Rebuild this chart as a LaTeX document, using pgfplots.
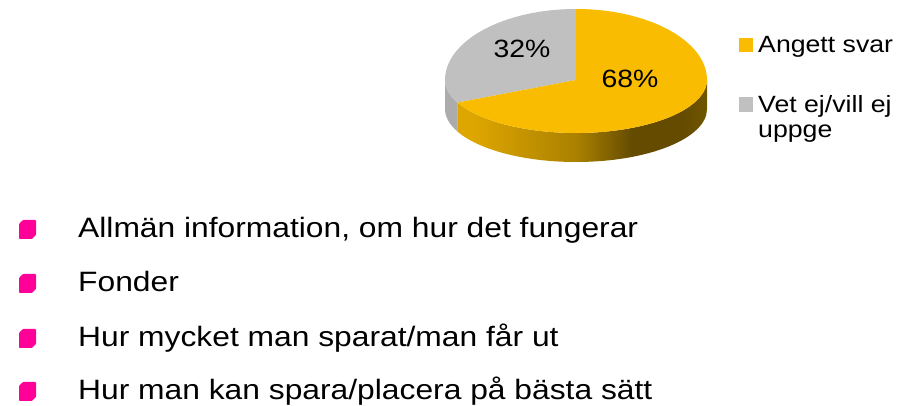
\documentclass[border=0pt]{standalone}
\usepackage{fontspec}
\setmainfont[FakeStretch=1.135]{Liberation Sans}
\usepackage{pgfplots}
\pgfplotsset{compat=1.18}
\definecolor{pieyellow}{RGB}{250,188,0}
\definecolor{piegray}{RGB}{192,192,192}
\definecolor{sidelight}{RGB}{222,166,0}
\definecolor{sidemid}{RGB}{170,128,0}
\definecolor{sidedark}{RGB}{100,75,0}
\definecolor{sideend}{RGB}{112,85,0}
\definecolor{graydark}{RGB}{172,172,172}
\definecolor{bulletpink}{RGB}{255,0,153}
\pgfdeclarehorizontalshading{pieside}{100bp}{color(0bp)=(sidelight); color(28bp)=(sidelight); color(49bp)=(sidemid); color(60bp)=(sidedark); color(70bp)=(sidedark); color(75bp)=(sideend); color(100bp)=(sideend)}
% pie data (percent)
\def\valA{68}
\def\valB{32}
% geometry: centre (576,326), x radius 131, upper y radius 71, lower y radius 53, depth 29
\pgfmathsetmacro\angB{90+3.6*\valB}
\pgfmathsetmacro\xB{576+131*cos(\angB)}
\pgfmathsetmacro\yB{326+53*sin(\angB)}
\newcommand\pinkbullet[1]{\fill[bulletpink,rounded corners=0.8pt] (axis cs:19,#1) -- ++(0pt,15pt) -- ++(4pt,4pt) -- ++(13pt,0pt) -- ++(0pt,-15pt) -- ++(-4pt,-4pt) -- cycle;}
\begin{document}
\begin{tikzpicture}
\begin{axis}[
  at={(0,0)}, anchor=south west,
  scale only axis, width=912pt, height=406pt,
  xmin=0, xmax=912, ymin=0, ymax=406,
  hide axis, clip=false]
\path (axis cs:0,0) rectangle (axis cs:912,406);
% side walls
\fill[graydark] (axis cs:445,326) arc[start angle=180,end angle=\angB,x radius=131pt,y radius=53pt]
  -- ++(0pt,-29pt) arc[start angle=\angB,end angle=180,x radius=131pt,y radius=53pt] -- cycle;
\shade[shading=pieside] (axis cs:\xB,\yB) arc[start angle=\angB,end angle=360,x radius=131pt,y radius=53pt]
  -- ++(0pt,-29pt) arc[start angle=360,end angle=\angB,x radius=131pt,y radius=53pt] -- cycle;
% top faces
\fill[piegray] (axis cs:576,326) -- (axis cs:576,397) arc[start angle=90,end angle=180,x radius=131pt,y radius=71pt]
  arc[start angle=180,end angle=\angB,x radius=131pt,y radius=53pt] -- cycle;
\fill[pieyellow] (axis cs:576,326) -- (axis cs:\xB,\yB) arc[start angle=\angB,end angle=360,x radius=131pt,y radius=53pt]
  arc[start angle=0,end angle=90,x radius=131pt,y radius=71pt] -- cycle;
% slice labels
\node[font=\fontsize{25}{30}\selectfont, inner sep=0] at (axis cs:522,357) {32\%};
\node[font=\fontsize{25}{30}\selectfont, inner sep=0] at (axis cs:630,327) {68\%};
% legend
\fill[pieyellow] (axis cs:739,354) rectangle (axis cs:753,368);
\fill[piegray] (axis cs:739,294) rectangle (axis cs:753,309);
\node[anchor=base west, inner sep=0, font=\fontsize{23.5}{28}\selectfont] at (axis cs:758,353) {Angett svar};
\node[anchor=base west, inner sep=0, font=\fontsize{23.5}{28}\selectfont] at (axis cs:758,293) {Vet ej/vill ej};
\node[anchor=base west, inner sep=0, font=\fontsize{23.5}{28}\selectfont] at (axis cs:758,268) {uppge};
% bullet list
\pinkbullet{167}
\pinkbullet{113}
\pinkbullet{58}
\pinkbullet{5}
\node[anchor=base west, inner sep=0, font=\fontsize{28}{34}\selectfont] at (axis cs:78,168) {Allmän information, om hur det fungerar};
\node[anchor=base west, inner sep=0, font=\fontsize{28}{34}\selectfont] at (axis cs:78,114) {Fonder};
\node[anchor=base west, inner sep=0, font=\fontsize{28}{34}\selectfont] at (axis cs:78,59) {Hur mycket man sparat/man får ut};
\node[anchor=base west, inner sep=0, font=\fontsize{28}{34}\selectfont] at (axis cs:78,6) {Hur man kan spara/placera på bästa sätt};
\end{axis}
\end{tikzpicture}
\end{document}
